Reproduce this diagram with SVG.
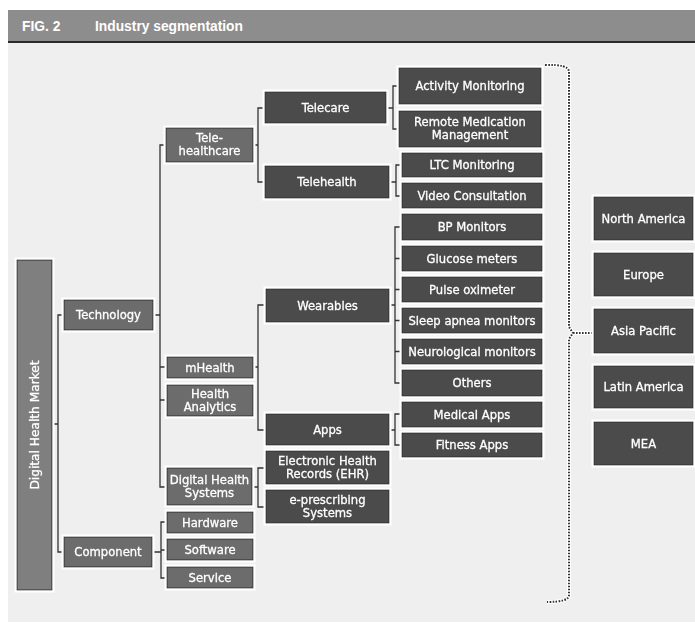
<svg xmlns="http://www.w3.org/2000/svg" width="695" height="625" viewBox="0 0 695 625">
<style>
.bg{fill:#ffffff}
.panel{fill:#efefef}
.hdr{fill:#8d8d8d}
.hline{fill:#2b2b2b}
.ht{font-family:"Liberation Sans",Arial,sans-serif;font-weight:bold;font-size:13.8px;fill:#ffffff}
.n{stroke:#2e2e2e;stroke-width:1}
.c1{fill:#7f7f7f}
.c2{fill:#6c6c6c}
.c3{fill:#4b4b4b}
.t{font-family:"DejaVu Sans",Verdana,sans-serif;font-size:11.6px;fill:#ffffff;stroke:#ffffff;stroke-width:0.3;text-anchor:middle}
.ln{fill:none;stroke:#333333;stroke-width:1.3}
.dot{fill:none;stroke:#333333;stroke-width:2;stroke-dasharray:1.6 1.4}
.doth{fill:none;stroke:#ffffff;stroke-width:4}
</style>
<defs>
<filter id="halo" x="-20%" y="-20%" width="140%" height="140%">
<feMorphology in="SourceAlpha" operator="dilate" radius="1.6" result="d"/>
<feFlood flood-color="#ffffff"/>
<feComposite in2="d" operator="in"/>
<feMerge><feMergeNode/><feMergeNode in="SourceGraphic"/></feMerge>
</filter>
</defs>
<rect class="bg" x="0" y="0" width="695" height="625"/>
<rect class="panel" x="8" y="43" width="687" height="579"/>
<g id="header">
<rect class="hdr" x="8" y="10" width="687" height="31"/>
<rect class="hline" x="8" y="41" width="687" height="2"/>
<text class="ht" x="22" y="31">FIG. 2</text>
<text class="ht" x="95" y="31">Industry segmentation</text>
</g>
<g id="connectors">
<path class="ln" d="M52,424 H58 M64,315 H58 V552 H64"/>
<path class="ln" d="M153,315 H160 M166,145 H160 V487 H167 M160,367 H167 M160,400 H167"/>
<path class="ln" d="M152,552 H161 M167,522 H161 V578 H167 M161,550 H167"/>
<path class="ln" d="M253,145 H258 M265,108 H258 V182 H265"/>
<path class="ln" d="M253,367 H258 M266,305 H258 V430 H266"/>
<path class="ln" d="M252,487 H258 M266,468 H258 V507 H266"/>
<path class="ln" d="M386,108 H393 M399,86 H393 V129 H399"/>
<path class="ln" d="M389,182 H396 M402,165 H396 V196 H402"/>
<path class="ln" d="M389,305 H395 M402,227 H395 V383 H402 M395,258.5 H402 M395,289.5 H402 M395,320.5 H402 M395,351.5 H402"/>
<path class="ln" d="M389,430 H395 M402,414 H395 V445 H402"/>
<path class="doth" d="M545,65 Q569,64 569,72 V327 L573,333 L569,339 V595 Q569,602 547,602 M573,333 H593"/>
<path class="dot" d="M545,65 Q569,64 569,72 V327 L573,333 L569,339 V595 Q569,602 547,602 M573,333 H593"/>
</g>
<g id="dhm" filter="url(#halo)"><rect class="n c1" x="17" y="260" width="35" height="330"/><text class="t" transform="translate(38.7,425) rotate(-90)" x="0" y="0" style="font-size:12.2px">Digital Health Market</text></g>
<g id="technology" filter="url(#halo)"><rect class="n c2" x="64" y="300" width="89" height="30"/><text class="t" x="108.5" y="319">Technology</text></g>
<g id="component" filter="url(#halo)"><rect class="n c2" x="64" y="537" width="88" height="30"/><text class="t" x="108" y="556">Component</text></g>
<g id="telehealthcare" filter="url(#halo)"><rect class="n c2" x="166" y="128" width="87" height="34"/><text class="t" x="209.5" y="142">Tele-</text><text class="t" x="209.5" y="155">healthcare</text></g>
<g id="mhealth" filter="url(#halo)"><rect class="n c2" x="167" y="357" width="86" height="21"/><text class="t" x="210" y="371.5">mHealth</text></g>
<g id="healthanalytics" filter="url(#halo)"><rect class="n c2" x="167" y="385" width="86" height="31"/><text class="t" x="210" y="398">Health</text><text class="t" x="210" y="411">Analytics</text></g>
<g id="dhs" filter="url(#halo)"><rect class="n c2" x="167" y="468" width="85" height="37"/><text class="t" x="209.5" y="484">Digital Health</text><text class="t" x="209.5" y="497">Systems</text></g>
<g id="hardware" filter="url(#halo)"><rect class="n c2" x="167" y="512" width="86" height="21"/><text class="t" x="210" y="526.5">Hardware</text></g>
<g id="software" filter="url(#halo)"><rect class="n c2" x="167" y="539" width="86" height="21"/><text class="t" x="210" y="553.5">Software</text></g>
<g id="service" filter="url(#halo)"><rect class="n c2" x="167" y="567" width="86" height="21"/><text class="t" x="210" y="581.5">Service</text></g>
<g id="telecare" filter="url(#halo)"><rect class="n c3" x="265" y="92" width="121" height="31"/><text class="t" x="325.5" y="111.5">Telecare</text></g>
<g id="telehealth" filter="url(#halo)"><rect class="n c3" x="265" y="166" width="124" height="32"/><text class="t" x="327" y="186">Telehealth</text></g>
<g id="wearables" filter="url(#halo)"><rect class="n c3" x="266" y="289" width="123" height="33"/><text class="t" x="327.5" y="309.5">Wearables</text></g>
<g id="apps" filter="url(#halo)"><rect class="n c3" x="266" y="414" width="123" height="31"/><text class="t" x="327.5" y="433.5">Apps</text></g>
<g id="ehr" filter="url(#halo)"><rect class="n c3" x="266" y="451" width="123" height="33"/><text class="t" x="327.5" y="465">Electronic Health</text><text class="t" x="327.5" y="478">Records (EHR)</text></g>
<g id="eprescribing" filter="url(#halo)"><rect class="n c3" x="266" y="490" width="123" height="33"/><text class="t" x="327.5" y="504">e-prescribing</text><text class="t" x="327.5" y="517">Systems</text></g>
<g id="activity" filter="url(#halo)"><rect class="n c3" x="399" y="68" width="142" height="36"/><text class="t" x="470" y="90">Activity Monitoring</text></g>
<g id="remote" filter="url(#halo)"><rect class="n c3" x="399" y="111" width="142" height="36"/><text class="t" x="470" y="126">Remote Medication</text><text class="t" x="470" y="139">Management</text></g>
<g id="ltc" filter="url(#halo)"><rect class="n c3" x="402" y="153" width="140" height="24"/><text class="t" x="472" y="169">LTC Monitoring</text></g>
<g id="video" filter="url(#halo)"><rect class="n c3" x="402" y="183" width="140" height="25"/><text class="t" x="472" y="199.5">Video Consultation</text></g>
<g id="bp" filter="url(#halo)"><rect class="n c3" x="402" y="214" width="140" height="26"/><text class="t" x="472" y="231">BP Monitors</text></g>
<g id="glucose" filter="url(#halo)"><rect class="n c3" x="402" y="246" width="140" height="25"/><text class="t" x="472" y="262.5">Glucose meters</text></g>
<g id="pulse" filter="url(#halo)"><rect class="n c3" x="402" y="277" width="140" height="25"/><text class="t" x="472" y="293.5">Pulse oximeter</text></g>
<g id="sleep" filter="url(#halo)"><rect class="n c3" x="402" y="308" width="140" height="25"/><text class="t" x="472" y="324.5">Sleep apnea monitors</text></g>
<g id="neuro" filter="url(#halo)"><rect class="n c3" x="402" y="339" width="140" height="25"/><text class="t" x="472" y="355.5">Neurological monitors</text></g>
<g id="others" filter="url(#halo)"><rect class="n c3" x="402" y="370" width="140" height="26"/><text class="t" x="472" y="387">Others</text></g>
<g id="medapps" filter="url(#halo)"><rect class="n c3" x="402" y="402" width="140" height="25"/><text class="t" x="472" y="418.5">Medical Apps</text></g>
<g id="fitness" filter="url(#halo)"><rect class="n c3" x="402" y="433" width="140" height="24"/><text class="t" x="472" y="449">Fitness Apps</text></g>
<g id="northamerica" filter="url(#halo)"><rect class="n c3" x="594" y="197" width="99" height="43"/><text class="t" x="643.5" y="222.5">North America</text></g>
<g id="europe" filter="url(#halo)"><rect class="n c3" x="594" y="253" width="99" height="43"/><text class="t" x="643.5" y="278.5">Europe</text></g>
<g id="asiapacific" filter="url(#halo)"><rect class="n c3" x="594" y="309" width="99" height="44"/><text class="t" x="643.5" y="335">Asia Pacific</text></g>
<g id="latinamerica" filter="url(#halo)"><rect class="n c3" x="594" y="366" width="99" height="42"/><text class="t" x="643.5" y="391">Latin America</text></g>
<g id="mea" filter="url(#halo)"><rect class="n c3" x="594" y="422" width="99" height="43"/><text class="t" x="643.5" y="447.5">MEA</text></g>
</svg>
